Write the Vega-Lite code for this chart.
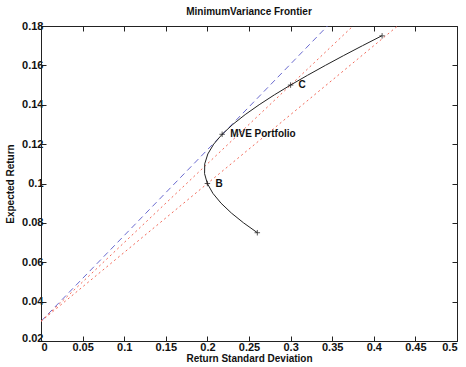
{
  "$schema": "https://vega.github.io/schema/vega-lite/v6.json",
  "width": 416,
  "height": 315,
  "autosize": "none",
  "padding": {"left": 41, "top": 26, "right": 9, "bottom": 26},
  "background": "white",
  "config": {
    "font": "Liberation Sans",
    "view": {"stroke": "#222", "strokeWidth": 1},
    "axis": {
      "domainColor": "#222", "tickColor": "#222", "tickSize": -5, "grid": false, "labelOverlap": false, "labelBound": false,
      "labelFont": "Liberation Sans", "labelFontWeight": "bold", "labelFontSize": 11, "labelColor": "#111",
      "titleFont": "Liberation Sans", "titleFontWeight": "bold", "titleFontSize": 10, "titleColor": "#111"
    }
  },
  "title": {"text": "MinimumVariance Frontier", "fontSize": 10, "fontWeight": "bold", "font": "Liberation Sans", "offset": 3, "color": "#111"},
  "resolve": {"axis": {"x": "independent", "y": "independent"}},
  "datasets": {
    "frontier": [
      {"sd": 0.2601, "ret": 0.075}, {"sd": 0.2435, "ret": 0.080}, {"sd": 0.2288, "ret": 0.085},
      {"sd": 0.2164, "ret": 0.090}, {"sd": 0.2066, "ret": 0.095}, {"sd": 0.1999, "ret": 0.100},
      {"sd": 0.1966, "ret": 0.105}, {"sd": 0.1968, "ret": 0.110}, {"sd": 0.2005, "ret": 0.115},
      {"sd": 0.2076, "ret": 0.120}, {"sd": 0.2177, "ret": 0.125}, {"sd": 0.2305, "ret": 0.130},
      {"sd": 0.2454, "ret": 0.135}, {"sd": 0.2622, "ret": 0.140}, {"sd": 0.2804, "ret": 0.145},
      {"sd": 0.2999, "ret": 0.150}, {"sd": 0.3205, "ret": 0.155}, {"sd": 0.3418, "ret": 0.160},
      {"sd": 0.3638, "ret": 0.165}, {"sd": 0.3864, "ret": 0.170}, {"sd": 0.4095, "ret": 0.175}
    ],
    "lines": [
      {"line": "tangent", "sd": 0, "ret": 0.03}, {"line": "tangent", "sd": 0.3443, "ret": 0.18},
      {"line": "C", "sd": 0, "ret": 0.03}, {"line": "C", "sd": 0.375, "ret": 0.18},
      {"line": "B", "sd": 0, "ret": 0.03}, {"line": "B", "sd": 0.4286, "ret": 0.18}
    ],
    "marks": [
      {"sd": 0.26, "ret": 0.075, "label": ""},
      {"sd": 0.2, "ret": 0.1, "label": "B"},
      {"sd": 0.2177, "ret": 0.125, "label": "MVE Portfolio"},
      {"sd": 0.3, "ret": 0.15, "label": "C"},
      {"sd": 0.41, "ret": 0.175, "label": ""}
    ]
  },
  "layer": [
    {
      "data": {"name": "lines"},
      "transform": [{"filter": "datum.line == 'tangent'"}],
      "mark": {"type": "line", "color": "#6a6acf", "strokeWidth": 1, "strokeDash": [6, 4], "clip": true},
      "encoding": {
        "x": {"field": "sd", "type": "quantitative", "scale": {"domain": [0, 0.5], "nice": false}, "axis": {"title": "Return Standard Deviation", "values": [0,0.05,0.1,0.15,0.2,0.25,0.3,0.35,0.4,0.45,0.5], "format": "~g", "titlePadding": 1, "labelPadding": 5}},
        "y": {"field": "ret", "type": "quantitative", "scale": {"domain": [0.02, 0.18], "nice": false, "zero": false}, "axis": {"title": "Expected Return", "values": [0.02,0.04,0.06,0.08,0.1,0.12,0.14,0.16,0.18], "format": "~g", "titlePadding": 6, "labelPadding": 3, "labelOffset": {"condition": {"test": "datum.value < 0.03", "value": -3}, "value": 0}}}
      }
    },
    {
      "data": {"name": "lines"},
      "transform": [{"filter": "datum.line == 'tangent'"}],
      "mark": {"type": "line", "opacity": 0},
      "encoding": {
        "x": {"field": "sd", "type": "quantitative", "axis": {"orient": "top", "title": null, "labels": false, "domain": false, "values": [0,0.05,0.1,0.15,0.2,0.25,0.3,0.35,0.4,0.45,0.5]}},
        "y": {"field": "ret", "type": "quantitative", "axis": {"orient": "right", "title": null, "labels": false, "domain": false, "values": [0.02,0.04,0.06,0.08,0.1,0.12,0.14,0.16,0.18]}}
      }
    },
    {
      "data": {"name": "lines"},
      "transform": [{"filter": "datum.line != 'tangent'"}],
      "mark": {"type": "line", "color": "#f26a5a", "strokeWidth": 1, "strokeDash": [2, 3], "clip": true},
      "encoding": {
        "x": {"field": "sd", "type": "quantitative", "axis": null},
        "y": {"field": "ret", "type": "quantitative", "axis": null},
        "detail": {"field": "line"}
      }
    },
    {
      "data": {"name": "frontier"},
      "mark": {"type": "line", "color": "#222", "strokeWidth": 1},
      "encoding": {
        "x": {"field": "sd", "type": "quantitative", "axis": null},
        "y": {"field": "ret", "type": "quantitative", "axis": null},
        "order": {"field": "ret"}
      }
    },
    {
      "data": {"name": "marks"},
      "mark": {"type": "point", "shape": "M-1,0L1,0M0,-1L0,1", "size": 30, "color": "#111", "filled": false, "strokeWidth": 1},
      "encoding": {
        "x": {"field": "sd", "type": "quantitative", "axis": null},
        "y": {"field": "ret", "type": "quantitative", "axis": null}
      }
    },
    {
      "data": {"name": "marks"},
      "mark": {"type": "text", "align": "left", "dx": 8, "dy": 0, "fontSize": 10, "fontWeight": "bold", "color": "#111", "font": "Liberation Sans"},
      "encoding": {
        "x": {"field": "sd", "type": "quantitative", "axis": null},
        "y": {"field": "ret", "type": "quantitative", "axis": null},
        "text": {"field": "label"}
      }
    }
  ]
}
